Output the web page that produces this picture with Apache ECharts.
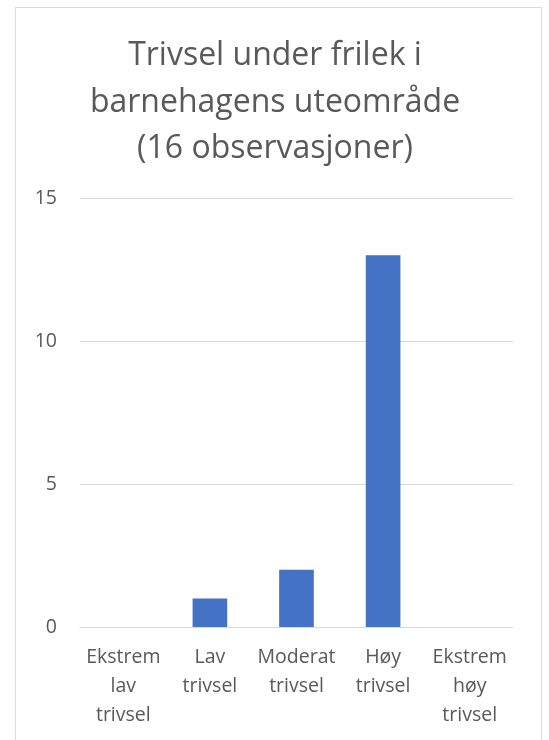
<!DOCTYPE html>
<html>
<head>
<meta charset="utf-8">
<script src="https://cdn.jsdelivr.net/npm/echarts@6/dist/echarts.min.js"></script>
<style>
  html, body { margin: 0; padding: 0; background: #fff; }
  #wrap {
    position: absolute; left: 15px; top: 7px;
    width: 527px; height: 760px;
    border: 1px solid #d9d9d9; box-sizing: border-box;
  }
  #main { position: absolute; left: 0; top: 0; width: 549px; height: 740px; }
</style>
</head>
<body>
<div id="wrap"></div>
<div id="main"></div>
<script>
// kategorier og verdier
var categories = ['Ekstrem\nlav\ntrivsel', 'Lav\ntrivsel', 'Moderat\ntrivsel', 'Høy\ntrivsel', 'Ekstrem\nhøy\ntrivsel']
var values = [0, 1, 2, 13, 0]
var yTicks = [0, 5, 10, 15]
var titleLines = ['Trivsel under frilek i', 'barnehagens uteområde', '(16 observasjoner)']

var textColor = '#595959'
var font = 'Open Sans'

var myChart = echarts.init(document.getElementById('main'))
var option = {
  animation: false,
  title: {
    text: titleLines.join('\n'),
    left: 270,
    textAlign: 'center',
    top: 28,
    textStyle: {
      fontFamily: font,
      fontSize: 32,
      fontWeight: 'normal',
      color: textColor,
      lineHeight: 46.5
    }
  },
  grid: {
    left: 80,
    right: 36,
    top: 198,
    bottom: 113
  },
  xAxis: {
    type: 'category',
    data: categories,
    axisTick: { show: false },
    axisLine: { lineStyle: { color: '#d9d9d9', width: 1 } },
    axisLabel: {
      interval: 0,
      margin: 16,
      fontFamily: font,
      fontSize: 19.5,
      lineHeight: 29,
      color: textColor
    }
  },
  yAxis: {
    type: 'value',
    min: yTicks[0],
    max: yTicks[yTicks.length - 1],
    interval: 5,
    axisLine: { show: false },
    axisTick: { show: false },
    splitLine: { lineStyle: { color: '#d9d9d9', width: 1 } },
    axisLabel: {
      margin: 23,
      fontFamily: font,
      fontSize: 19.5,
      color: textColor
    }
  },
  series: [
    {
      type: 'bar',
      data: values,
      barWidth: '40%',
      itemStyle: { color: '#4472c4' }
    }
  ]
}
myChart.setOption(option)
</script>
</body>
</html>
